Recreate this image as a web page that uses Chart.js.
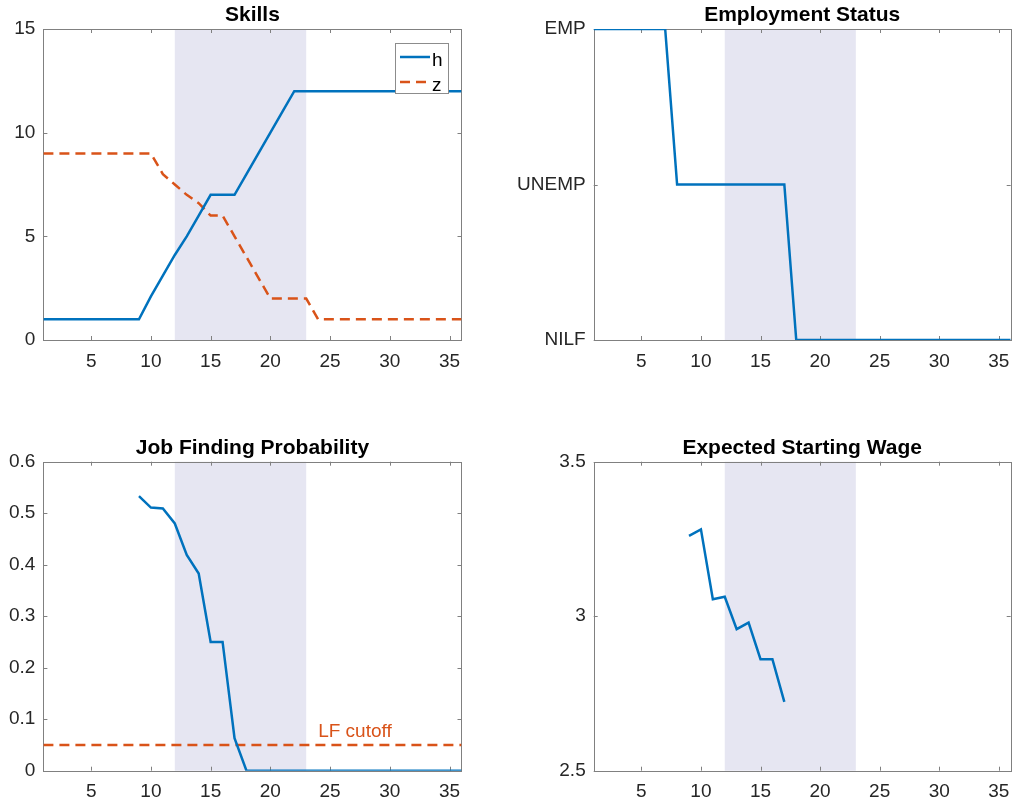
<!DOCTYPE html>
<html>
<head>
<meta charset="utf-8">
<script src="https://cdn.jsdelivr.net/npm/chart.js@4.4.0/dist/chart.umd.min.js"></script>
<style>
  html, body { margin: 0; padding: 0; background: #fff; }
  #page { position: relative; width: 1013px; height: 804px; overflow: hidden; }
  .panel { position: absolute; }
</style>
</head>
<body>
<div id="page">
  <div class="panel" style="left:0;top:0"><canvas id="skillsChart" width="500" height="400"></canvas></div>
  <div class="panel" style="left:500px;top:0"><canvas id="statusChart" width="513" height="400"></canvas></div>
  <div class="panel" style="left:0;top:400px"><canvas id="jobChart" width="500" height="404"></canvas></div>
  <div class="panel" style="left:500px;top:400px"><canvas id="wageChart" width="513" height="404"></canvas></div>
</div>
<script>
// periods shown on every x axis
const periods = [1,2,3,4,5,6,7,8,9,10,11,12,13,14,15,16,17,18,19,20,21,22,23,24,25,26,27,28,29,30,31,32,33,34,35,36];
const xTicks = [5,10,15,20,25,30,35];
const shadeFrom = 12;
const shadeTo = 23;

// Skills
const skillH = [1,1,1,1,1,1,1,1,1,2.1,3.1,4.1,5,6,7,7,7,8,9,10,11,12,12,12,12,12,12,12,12,12,12,12,12,12,12,12];
const skillZ = [9,9,9,9,9,9,9,9,9,9,8,7.5,7,6.6,6,6,5,4,3,2,2,2,2,1,1,1,1,1,1,1,1,1,1,1,1,1];
const skillTicks = [0,5,10,15];

// Employment status (0 = NILF, 1 = UNEMP, 2 = EMP)
const statusValues = [2,2,2,2,2,2,2,1,1,1,1,1,1,1,1,1,1,0,0,0,0,0,0,0,0,0,0,0,0,0,0,0,0,0,0,0];
const statusNames = ["NILF", "UNEMP", "EMP"];
const statusTicks = [0,1,2];

// Job finding probability
const jobFinding = [null,null,null,null,null,null,null,null,0.533,0.511,0.509,0.48,0.419,0.383,0.25,0.25,0.063,0,0,0,0,0,0,0,0,0,0,0,0,0,0,0,0,0,0,0];
const jobTicks = [0,0.1,0.2,0.3,0.4,0.5,0.6];
const lfCutoff = 0.05;
const lfLabelAt = [24, 0.065];

// Expected starting wage
const startWage = [null,null,null,null,null,null,null,null,3.26,3.281,3.055,3.063,2.958,2.979,2.861,2.861,2.723,null,null,null,null,null,null,null,null,null,null,null,null,null,null,null,null,null,null,null];
const wageTicks = [2.5,3,3.5];

const BLUE = "#0072BD";
const ORANGE = "#D95319";
const SHADE = "rgb(230,230,242)";
const AXIS = "#808080";
const TEXT = "#262626";
const FONT = "'Liberation Sans', Arial, Helvetica, sans-serif";

// draws the grey band, the axes box with inward ticks, the title, legend and note
const matlabAxes = {
  id: "matlabAxes",
  beforeDatasetsDraw(chart, args, opts) {
    const { ctx, chartArea: a, scales } = chart;
    const x0 = scales.x.getPixelForValue(shadeFrom);
    const x1 = scales.x.getPixelForValue(shadeTo);
    ctx.save();
    ctx.fillStyle = SHADE;
    ctx.fillRect(x0, a.top, x1 - x0, a.bottom - a.top);

    ctx.strokeStyle = AXIS;
    ctx.lineWidth = 1;
    ctx.strokeRect(Math.round(a.left) + 0.5, Math.round(a.top) + 0.5,
                   Math.round(a.right - a.left), Math.round(a.bottom - a.top));
    ctx.beginPath();
    scales.x.ticks.forEach(t => {
      const px = Math.round(scales.x.getPixelForValue(t.value)) + 0.5;
      ctx.moveTo(px, a.bottom); ctx.lineTo(px, a.bottom - 4);
      ctx.moveTo(px, a.top); ctx.lineTo(px, a.top + 4);
    });
    scales.y.ticks.forEach(t => {
      const py = Math.round(scales.y.getPixelForValue(t.value)) + 0.5;
      ctx.moveTo(a.left, py); ctx.lineTo(a.left + 4, py);
      ctx.moveTo(a.right, py); ctx.lineTo(a.right - 4, py);
    });
    ctx.stroke();
    ctx.restore();
  },
  afterDatasetsDraw(chart, args, opts) {
    const { ctx, chartArea: a, scales } = chart;
    ctx.save();
    ctx.fillStyle = "#000";
    ctx.font = "bold 21px " + FONT;
    ctx.textAlign = "center";
    ctx.textBaseline = "alphabetic";
    ctx.fillText(opts.title, (a.left + a.right) / 2, a.top - 8);

    if (opts.legend) {
      const L = opts.legend;
      ctx.fillStyle = "#fff";
      ctx.fillRect(L.x, L.y, L.w, L.h);
      ctx.strokeStyle = "#8c8c8c";
      ctx.lineWidth = 1;
      ctx.strokeRect(L.x + 0.5, L.y + 0.5, L.w, L.h);
      chart.data.datasets.forEach((ds, i) => {
        const ly = L.y + 14 + i * 25;
        ctx.strokeStyle = ds.borderColor;
        ctx.lineWidth = ds.borderWidth;
        ctx.setLineDash(ds.borderDash || []);
        ctx.beginPath();
        ctx.moveTo(L.x + 5, ly);
        ctx.lineTo(L.x + 35, ly);
        ctx.stroke();
        ctx.setLineDash([]);
        ctx.fillStyle = "#000";
        ctx.font = "19px " + FONT;
        ctx.textAlign = "left";
        ctx.fillText(ds.label, L.x + 37, ly + 9);
      });
    }

    if (opts.note) {
      ctx.fillStyle = opts.note.color;
      ctx.font = "19px " + FONT;
      ctx.textAlign = "left";
      ctx.fillText(opts.note.text, scales.x.getPixelForValue(opts.note.at[0]),
                   scales.y.getPixelForValue(opts.note.at[1]));
    }
    ctx.restore();
  }
};

function noPad(s) {
  s.paddingLeft = 0; s.paddingRight = 0; s.paddingTop = 0; s.paddingBottom = 0;
}

function makePanel(id, datasets, cfg) {
  return new Chart(document.getElementById(id), {
    type: "line",
    data: { labels: periods, datasets },
    options: {
      responsive: false,
      animation: false,
      layout: { padding: { top: cfg.top, right: cfg.right, left: 0, bottom: 0 } },
      plugins: {
        legend: { display: false },
        tooltip: { enabled: false },
        matlabAxes: { title: cfg.title, legend: cfg.legend, note: cfg.note }
      },
      elements: { point: { radius: 0 }, line: { tension: 0 } },
      scales: {
        x: {
          type: "linear", min: 1, max: 36,
          afterBuildTicks: s => { s.ticks = xTicks.map(v => ({ value: v })); },
          afterFit: s => { s.height = cfg.xh; noPad(s); },
          grid: { display: false, drawTicks: false },
          border: { display: false },
          ticks: { padding: 10, color: TEXT, font: { family: FONT, size: 19 } }
        },
        y: {
          type: "linear", min: cfg.ymin, max: cfg.ymax,
          afterBuildTicks: s => { s.ticks = cfg.yticks.map(v => ({ value: v })); },
          afterFit: s => { s.width = cfg.yw; noPad(s); },
          grid: { display: false, drawTicks: false },
          border: { display: false },
          ticks: {
            padding: 8, color: TEXT, font: { family: FONT, size: 19 },
            callback: cfg.ylabel || (v => String(v))
          }
        }
      }
    },
    plugins: [matlabAxes]
  });
}

makePanel("skillsChart", [
  { label: "h", data: skillH, borderColor: BLUE, borderWidth: 2.5 },
  { label: "z", data: skillZ, borderColor: ORANGE, borderWidth: 2.5, borderDash: [10, 6] }
], { title: "Skills", top: 29, right: 38.5, xh: 60, yw: 43.4, ymin: 0, ymax: 15, yticks: skillTicks,
     legend: { x: 395, y: 43, w: 53, h: 50 } });

makePanel("statusChart", [
  { label: "status", data: statusValues, borderColor: BLUE, borderWidth: 2.5 }
], { title: "Employment Status", top: 29, right: 2.3, xh: 60, yw: 93.7, ymin: 0, ymax: 2, yticks: statusTicks,
     ylabel: v => statusNames[v] });

makePanel("jobChart", [
  { label: "prob", data: jobFinding, borderColor: BLUE, borderWidth: 2.5 },
  { label: "LF cutoff", data: [{ x: periods[0], y: lfCutoff }, { x: periods[periods.length - 1], y: lfCutoff }],
    borderColor: ORANGE, borderWidth: 2.5, borderDash: [10, 6] }
], { title: "Job Finding Probability", top: 61.7, right: 38.5, xh: 33.3, yw: 43.4, ymin: 0, ymax: 0.6, yticks: jobTicks,
     note: { text: "LF cutoff", at: lfLabelAt, color: ORANGE } });

makePanel("wageChart", [
  { label: "wage", data: startWage, borderColor: BLUE, borderWidth: 2.5 }
], { title: "Expected Starting Wage", top: 61.7, right: 2.3, xh: 33.3, yw: 93.7, ymin: 2.5, ymax: 3.5, yticks: wageTicks });
</script>
</body>
</html>
